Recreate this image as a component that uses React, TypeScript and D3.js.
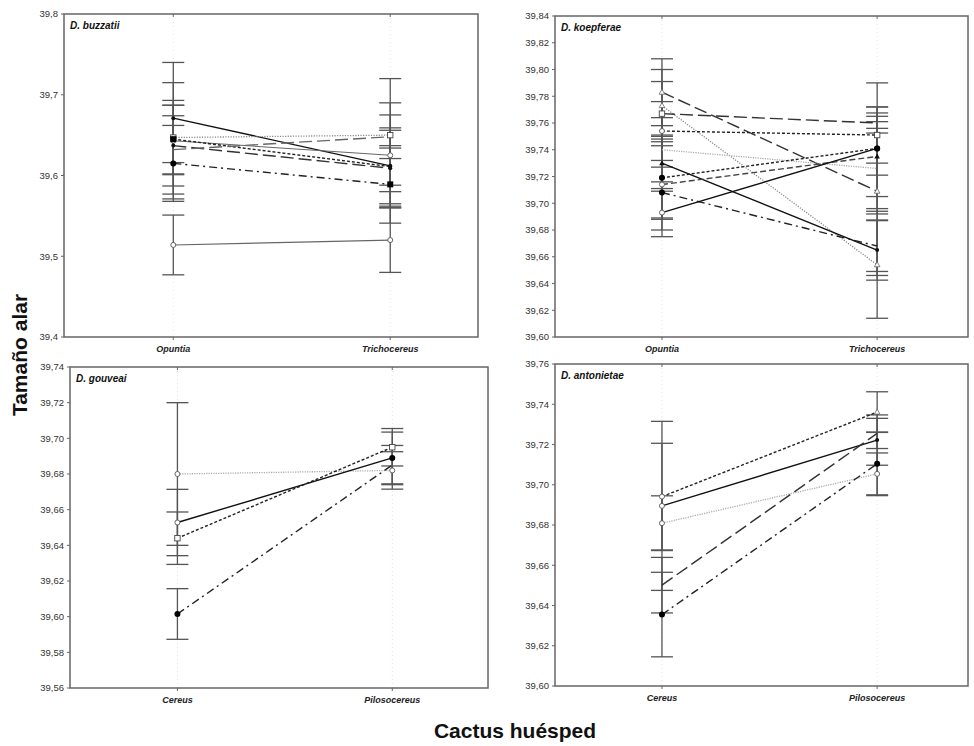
import React from "react";
import * as d3 from "d3";

// ---------- DATA ----------
const buzzatiiCats = ["Opuntia", "Trichocereus"];
const buzzatiiTicks = [39.4, 39.5, 39.6, 39.7, 39.8];
const buzzatiiMeans = [
  [39.671, 39.612],
  [39.514, 39.52],
  [39.647, 39.65],
  [39.643, 39.625],
  [39.645, 39.611],
  [39.637, 39.609],
  [39.632, 39.648],
  [39.615, 39.589],
];
const buzzatiiErrs = [
  [0.069, 0.047],
  [0.037, 0.04],
  [0.046, 0.07],
  [0.072, 0.065],
  [0.029, 0.023],
  [0.05, 0.047],
  [0.055, 0.027],
  [0.047, 0.048],
];

const koepferaeCats = ["Opuntia", "Trichocereus"];
const koepferaeTicks = [39.6, 39.62, 39.64, 39.66, 39.68, 39.7, 39.72, 39.74, 39.76, 39.78, 39.8, 39.82, 39.84];
const koepferaeMeans = [
  [39.783, 39.709],
  [39.773, 39.654],
  [39.767, 39.76],
  [39.754, 39.751],
  [39.74, 39.726],
  [39.73, 39.665],
  [39.719, 39.741],
  [39.714, 39.735],
  [39.708, 39.668],
  [39.693, 39.741],
];
const koepferaeErrs = [
  [0.025, 0.063],
  [0.027, 0.04],
  [0.024, 0.0075],
  [0.022, 0.021],
  [0.024, 0.03],
  [0.021, 0.0225],
  [0.031, 0.02],
  [0.034, 0.03],
  [0.019, 0.019],
  [0.018, 0.049],
];

const gouveaiCats = ["Cereus", "Pilosocereus"];
const gouveaiTicks = [39.56, 39.58, 39.6, 39.62, 39.64, 39.66, 39.68, 39.7, 39.72, 39.74];
const gouveaiMeans = [
  [39.68, 39.682],
  [39.6528, 39.689],
  [39.644, 39.695],
  [39.6015, 39.685],
];
const gouveaiErrs = [
  [0.04, 0.0105],
  [0.0186, 0.0145],
  [0.0147, 0.0105],
  [0.0142, 0.011],
];

const antonietaeCats = ["Cereus", "Pilosocereus"];
const antonietaeTicks = [39.6, 39.62, 39.64, 39.66, 39.68, 39.7, 39.72, 39.74, 39.76];
const antonietaeMeans = [
  [39.6941, 39.7361],
  [39.6895, 39.7222],
  [39.6809, 39.7054],
  [39.6501, 39.7255],
  [39.6355, 39.7104],
];
const antonietaeErrs = [
  [0.0265, 0.0101],
  [0.042, 0.0125],
  [0.0136, 0.0104],
  [0.0138, 0.0075],
  [0.021, 0.0158],
];

// ---------- STYLES ----------
const LINE_STYLES: Record<string, { stroke: string; dash: string | null; width: number }> = {
  solid: { stroke: "#111", dash: null, width: 1.4 },
  solidGray: { stroke: "#666", dash: null, width: 1.1 },
  dotted: { stroke: "#888", dash: "1.2,1.4", width: 1.3 },
  dottedLight: { stroke: "#aaa", dash: "1.2,1.2", width: 1.3 },
  shortDash: { stroke: "#222", dash: "3,2", width: 1.4 },
  longDash: { stroke: "#333", dash: "13,5", width: 1.4 },
  longDashGray: { stroke: "#666", dash: "13,5", width: 1.4 },
  dashGray: { stroke: "#444", dash: "6,3", width: 1.4 },
  dashDot: { stroke: "#222", dash: "8,4,2,4", width: 1.4 },
};

const buzzatiiLines = ["solid", "solidGray", "dotted", "solidGray", "shortDash", "longDash", "longDashGray", "dashDot"];
const buzzatiiMarks = [["dot", "dot"], ["ocircle", "ocircle"], ["osquare", "osquare"], ["ocircle", "ocircle"], ["fsquare", "dot"], ["dot", "dot"], ["none", "none"], ["fcircle", "fsquare"]];
const koepferaeLines = ["longDash", "dotted", "longDash", "shortDash", "dottedLight", "solid", "shortDash", "dashGray", "dashDot", "solid"];
const koepferaeMarks = [["otri", "otri"], ["otri", "otri"], ["osquare", "none"], ["ocircle", "osquare"], ["none", "none"], ["ftri", "dot"], ["fcircle", "fcircle"], ["ocircle", "ftri"], ["fcircle", "none"], ["ocircle", "fcircle"]];
const gouveaiLines = ["dottedLight", "solid", "shortDash", "dashDot"];
const gouveaiMarks = [["ocircle", "ocircle"], ["ocircle", "fcircle"], ["osquare", "osquare"], ["fcircle", "none"]];
const antonietaeLines = ["shortDash", "solid", "dottedLight", "longDash", "dashDot"];
const antonietaeMarks = [["ocircle", "otri"], ["ocircle", "dot"], ["ocircle", "ocircle"], ["none", "none"], ["fcircle", "fcircle"]];

const commaFmt = (dec: number) => (v: number) => d3.format(`.${dec}f`)(v).replace(".", ",");

type PanelProps = {
  title: string;
  cats: string[];
  ticks: number[];
  means: number[][];
  errs: number[][];
  lines: string[];
  marks: string[][];
  dec: number;
  box: { x0: number; x1: number; y0: number; y1: number };
  catPos: [number, number];
};

function Marker({ type, x, y }: { type: string; x: number; y: number }) {
  switch (type) {
    case "dot":
      return <circle cx={x} cy={y} r={2} fill="#111" />;
    case "fcircle":
      return <circle cx={x} cy={y} r={3} fill="#000" />;
    case "ocircle":
      return <circle cx={x} cy={y} r={2.5} fill="#fff" stroke="#555" strokeWidth={0.9} />;
    case "osquare":
      return <rect x={x - 2.7} y={y - 2.7} width={5.4} height={5.4} fill="#fff" stroke="#444" strokeWidth={0.9} />;
    case "fsquare":
      return <rect x={x - 3} y={y - 3} width={6} height={6} fill="#000" />;
    case "otri":
      return <path d={`M${x},${y - 3}L${x + 2.8},${y + 2}L${x - 2.8},${y + 2}Z`} fill="#fff" stroke="#666" strokeWidth={0.8} />;
    case "ftri":
      return <path d={`M${x},${y - 3}L${x + 2.8},${y + 2}L${x - 2.8},${y + 2}Z`} fill="#111" />;
    default:
      return null;
  }
}

function Panel(p: PanelProps) {
  const { x0, x1, y0, y1 } = p.box;
  const w = x1 - x0;
  const y = d3.scaleLinear().domain([p.ticks[0], p.ticks[p.ticks.length - 1]]).range([y1, y0]);
  const x = d3.scalePoint<string>().domain(p.cats).range([x0 + p.catPos[0] * w, x0 + p.catPos[1] * w]);
  const fmt = commaFmt(p.dec);
  const line = d3
    .line<[number, number]>()
    .x((d) => d[0])
    .y((d) => d[1]);
  const capW = 11;
  return (
    <g>
      {p.cats.map((c) => (
        <line key={"g" + c} x1={x(c)} x2={x(c)} y1={y0} y2={y1} stroke="#e2e2e2" strokeWidth={1} strokeDasharray="1,3" />
      ))}
      {p.means.map((m, i) =>
        p.cats.map((c, j) => {
          const cx = x(c)!;
          const hi = y(m[j] + p.errs[i][j]);
          const lo = y(m[j] - p.errs[i][j]);
          return (
            <g key={`e${i}-${j}`} stroke="#555" strokeWidth={1.3}>
              <line x1={cx} x2={cx} y1={hi} y2={lo} />
              <line x1={cx - capW} x2={cx + capW} y1={hi} y2={hi} />
              <line x1={cx - capW} x2={cx + capW} y1={lo} y2={lo} />
            </g>
          );
        })
      )}
      {p.means.map((m, i) => {
        const st = LINE_STYLES[p.lines[i]];
        const pts = p.cats.map((c, j) => [x(c)!, y(m[j])] as [number, number]);
        return (
          <path
            key={"l" + i}
            d={line(pts) || ""}
            fill="none"
            stroke={st.stroke}
            strokeWidth={st.width}
            strokeDasharray={st.dash || undefined}
          />
        );
      })}
      {p.means.map((m, i) =>
        p.cats.map((c, j) => <Marker key={`m${i}-${j}`} type={p.marks[i][j]} x={x(c)!} y={y(m[j])} />)
      )}
      <rect x={x0} y={y0} width={w} height={y1 - y0} fill="none" stroke="#666" strokeWidth={1.5} />
      {p.ticks.map((t) => (
        <g key={"t" + t}>
          <line x1={x0 - 3} x2={x0} y1={y(t)} y2={y(t)} stroke="#666" strokeWidth={1} />
          <text
            x={x0 - 6}
            y={y(t)}
            dy="0.35em"
            textAnchor="end"
            fontSize={9.5}
            fontFamily="Arial, 'Liberation Sans', sans-serif"
            fill="#333"
          >
            {fmt(t)}
          </text>
        </g>
      ))}
      {p.cats.map((c) => (
        <g key={"c" + c}>
          <line x1={x(c)} x2={x(c)} y1={y1} y2={y1 + 3} stroke="#666" strokeWidth={1} />
          <line x1={x(c)} x2={x(c)} y1={y0} y2={y0 + 3} stroke="#666" strokeWidth={1} />
          <text
            x={x(c)}
            y={y1 + 15}
            textAnchor="middle"
            fontSize={9}
            fontWeight="bold"
            fontStyle="italic"
            fontFamily="Arial, 'Liberation Sans', sans-serif"
            fill="#222"
          >
            {c}
          </text>
        </g>
      ))}
      <text
        x={x0 + 6}
        y={y0 + 15}
        fontSize={10}
        fontWeight="bold"
        fontStyle="italic"
        fontFamily="Arial, 'Liberation Sans', sans-serif"
        fill="#111"
      >
        {p.title}
      </text>
    </g>
  );
}

export default function App() {
  return (
    <svg
      width={974}
      height={746}
      viewBox="0 0 974 746"
      style={{ position: "absolute", left: 0, top: 0, background: "#fff" }}
    >
      <rect x={0} y={0} width={974} height={746} fill="#fff" />
      <Panel
        title="D. buzzatii"
        cats={buzzatiiCats}
        ticks={buzzatiiTicks}
        means={buzzatiiMeans}
        errs={buzzatiiErrs}
        lines={buzzatiiLines}
        marks={buzzatiiMarks}
        dec={1}
        box={{ x0: 64, x1: 478, y0: 14, y1: 337 }}
        catPos={[0.264, 0.788]}
      />
      <Panel
        title="D. koepferae"
        cats={koepferaeCats}
        ticks={koepferaeTicks}
        means={koepferaeMeans}
        errs={koepferaeErrs}
        lines={koepferaeLines}
        marks={koepferaeMarks}
        dec={2}
        box={{ x0: 555, x1: 968, y0: 16, y1: 337 }}
        catPos={[0.259, 0.78]}
      />
      <Panel
        title="D. gouveai"
        cats={gouveaiCats}
        ticks={gouveaiTicks}
        means={gouveaiMeans}
        errs={gouveaiErrs}
        lines={gouveaiLines}
        marks={gouveaiMarks}
        dec={2}
        box={{ x0: 70, x1: 488, y0: 367, y1: 688 }}
        catPos={[0.257, 0.771]}
      />
      <Panel
        title="D. antonietae"
        cats={antonietaeCats}
        ticks={antonietaeTicks}
        means={antonietaeMeans}
        errs={antonietaeErrs}
        lines={antonietaeLines}
        marks={antonietaeMarks}
        dec={2}
        box={{ x0: 555, x1: 968, y0: 364, y1: 686 }}
        catPos={[0.259, 0.78]}
      />
      <text
        transform="translate(27,355) rotate(-90)"
        textAnchor="middle"
        fontSize={21}
        fontWeight="bold"
        fontFamily="Arial, 'Liberation Sans', sans-serif"
        fill="#111"
      >
        Tamaño alar
      </text>
      <text
        x={515}
        y={738}
        textAnchor="middle"
        fontSize={21}
        fontWeight="bold"
        fontFamily="Arial, 'Liberation Sans', sans-serif"
        fill="#111"
      >
        Cactus huésped
      </text>
    </svg>
  );
}
